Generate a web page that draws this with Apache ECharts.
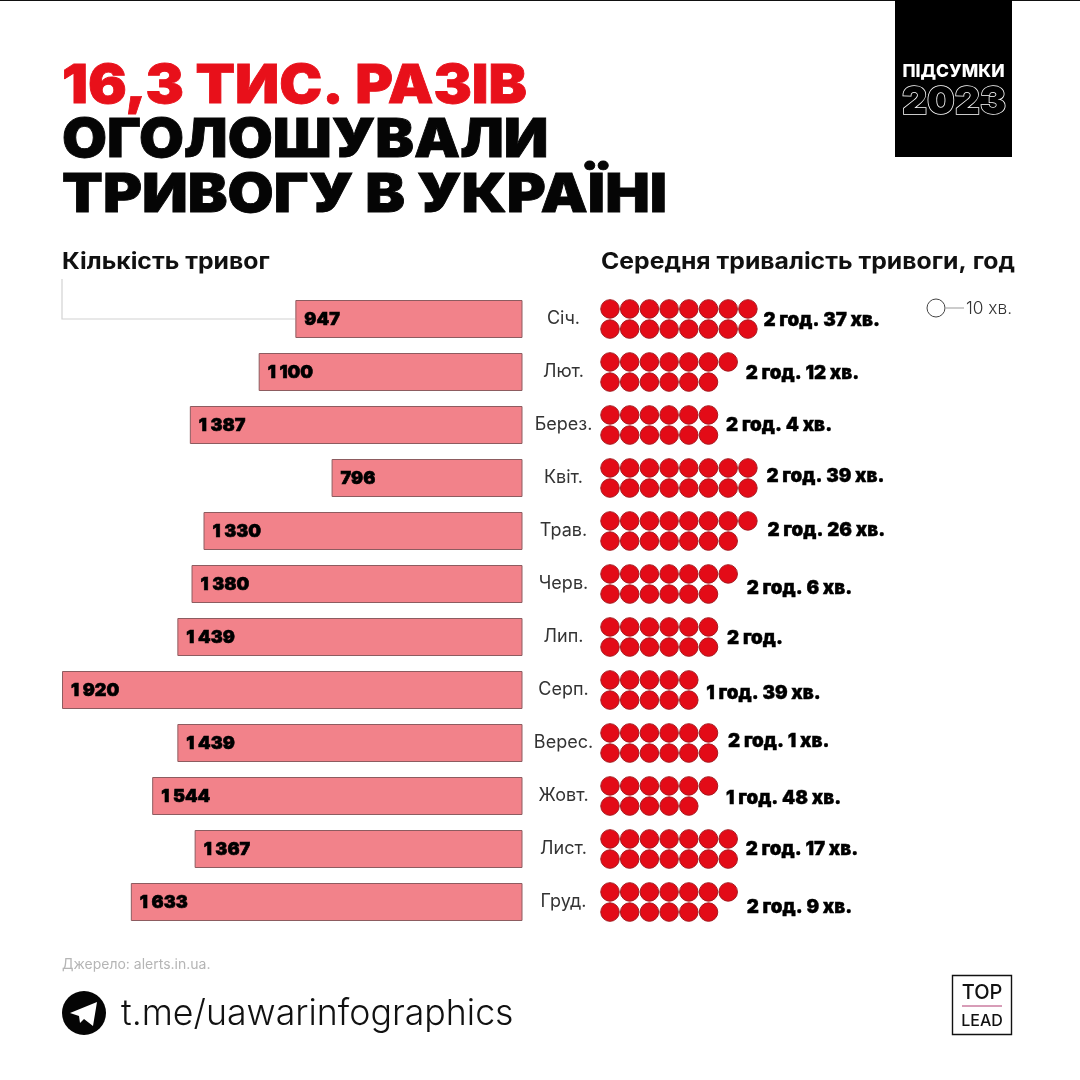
<!DOCTYPE html>
<html><head><meta charset="utf-8">
<style>html,body{margin:0;padding:0;background:#fff}#c{width:1080px;height:1080px}</style>
<script src="https://cdn.jsdelivr.net/npm/echarts@6/dist/echarts.min.js"></script>
</head><body><div id="c"></div>
<script>
const months = ['Січ.','Лют.','Берез.','Квіт.','Трав.','Черв.','Лип.','Серп.','Верес.','Жовт.','Лист.','Груд.'];
const alertCounts = [947,1100,1387,796,1330,1380,1439,1920,1439,1544,1367,1633];
const durationMinutes = [157,132,124,159,146,126,120,99,121,108,137,129];
const durationLabels = ['2 год. 37 хв.','2 год. 12 хв.','2 год. 4 хв.','2 год. 39 хв.','2 год. 26 хв.','2 год. 6 хв.','2 год.','1 год. 39 хв.','2 год. 1 хв.','1 год. 48 хв.','2 год. 17 хв.','2 год. 9 хв.'];
const labelGap = [6,8,8,9,10,9,9,8,10,8,8,9];
const labelDy = [1,1,0,-2,-1,4,1,3,-2,2,0,5];

const F = 'Inter, "Noto Sans", sans-serif';
const dots = [], ends = [];
durationMinutes.forEach((m, i) => {
  const n = Math.round(m / 10), top = Math.ceil(n / 2);
  for (let k = 0; k < n; k++) {
    const onTop = k < top;
    dots.push([onTop ? k : k - top, i + (onTop ? -0.19 : 0.19)]);
  }
  ends.push({
    value: [top - 1, i],
    label: { show: true, position: 'right', distance: 9.5 + labelGap[i], offset: [0, labelDy[i]],
      formatter: durationLabels[i], color: '#000', fontFamily: F, fontSize: 18.8, fontWeight: 900,
      textBorderColor: '#000', textBorderWidth: 0.4 }
  });
});
const txt = (text, x, y, size, weight, fill, extra, sx) => ({
  type: 'text', x, y, scaleX: sx || 1, silent: true,
  style: Object.assign({ text, fontFamily: F, fontSize: size, fontWeight: weight, fill, textVerticalAlign: 'middle', verticalAlign: 'middle' }, extra || {})
});
const chart = echarts.init(document.getElementById('c'), null, { renderer: 'canvas' });
chart.setOption({
  animation: false,
  backgroundColor: '#fff',
  grid: [
    { left: 62, top: 292.5, width: 460.5, height: 636 },
    { left: 610, top: 292.5, width: 394, height: 636 }
  ],
  xAxis: [
    { gridIndex: 0, type: 'value', inverse: true, min: 0, max: 1920, show: false },
    { gridIndex: 1, type: 'value', min: 0, max: 20, show: false }
  ],
  yAxis: [
    { gridIndex: 0, type: 'category', inverse: true, data: months, position: 'right',
      axisLine: { show: false }, axisTick: { show: false },
      axisLabel: { margin: 41, align: 'center', color: '#333', fontFamily: F, fontSize: 18, fontWeight: 400, padding: [1, 0, 0, 0] } },
    { gridIndex: 1, type: 'value', inverse: true, min: -0.5, max: 11.5, show: false }
  ],
  series: [
    { type: 'bar', xAxisIndex: 0, yAxisIndex: 0, data: alertCounts, barWidth: 38,
      itemStyle: { color: '#f2828a', borderColor: '#8d5c60', borderWidth: 1 },
      label: { show: true, position: 'insideLeft', distance: 9, offset: [0, 1], color: '#000', fontFamily: F, fontSize: 18, fontWeight: 900,
        textBorderColor: '#000', textBorderWidth: 0.6,
        formatter: p => String(p.value).replace(/\B(?=(\d{3})+$)/g, ' ') } },
    { type: 'scatter', xAxisIndex: 1, yAxisIndex: 1, data: dots, symbolSize: 18.5, clip: false,
      itemStyle: { color: '#e30b17', borderColor: '#a51a20', borderWidth: 1, opacity: 1 } },
    { type: 'scatter', xAxisIndex: 1, yAxisIndex: 1, data: ends, symbolSize: 0, clip: false, itemStyle: { opacity: 1 } }
  ],
  graphic: [
    { type: 'rect', silent: true, shape: { x: 0, y: 0, width: 1080, height: 1 }, style: { fill: '#111' } },
    { type: 'rect', silent: true, shape: { x: 895, y: 0, width: 117, height: 157 }, style: { fill: '#000' } },
    txt('ПІДСУМКИ', 953.5, 72, 17.5, 800, '#fff', { textAlign: 'center', align: 'center' }),
    txt('2023', 954, 102.5, 39, 900, '#000', { textAlign: 'center', align: 'center', stroke: '#fff', lineWidth: 1.5 }),
    txt('16,3 ТИС. РАЗІВ', 62, 86.5, 54, 900, '#e8101a', { stroke: '#e8101a', lineWidth: 0.8 }, 1.065),
    txt('ОГОЛОШУВАЛИ', 62, 140.5, 54, 900, '#050505', { stroke: '#050505', lineWidth: 0.8 }, 1.075),
    txt('ТРИВОГУ В УКРАЇНІ', 62, 195.5, 54, 900, '#050505', { stroke: '#050505', lineWidth: 0.8 }, 1.103),
    txt('Кількість тривог', 62, 262, 22.5, 700, '#111', null, 1.1),
    txt('Середня тривалість тривоги, год', 601, 262, 22.5, 700, '#111', null, 1.1),
    { type: 'polyline', silent: true, shape: { points: [[62, 279], [62, 319], [295, 319]] }, style: { stroke: '#d2d2d2', lineWidth: 1.2, fill: null } },
    { type: 'circle', silent: true, shape: { cx: 936, cy: 308, r: 9 }, style: { fill: '#fff', stroke: '#444', lineWidth: 1 } },
    { type: 'line', silent: true, shape: { x1: 946, y1: 308, x2: 964, y2: 308 }, style: { stroke: '#999', lineWidth: 1 } },
    txt('10 хв.', 966, 309, 17.3, 300, '#333'),
    txt('Джерело: alerts.in.ua.', 62, 965, 14, 400, '#b5b5b5'),
    { type: 'circle', silent: true, shape: { cx: 84, cy: 1013, r: 22 }, style: { fill: '#050505' } },
    { type: 'polygon', silent: true, shape: { points: [[70, 1013], [97, 1002], [93, 1026], [84, 1019], [80, 1023], [79, 1016]] }, style: { fill: '#fff' } },
    txt('t.me/uawarinfographics', 121, 1014, 35.7, 300, '#111'),
    { type: 'rect', silent: true, shape: { x: 952.5, y: 975.5, width: 59, height: 59 }, style: { fill: '#fff', stroke: '#111', lineWidth: 1.4 } },
    txt('TOP', 982, 993, 20, 500, '#111', { textAlign: 'center', align: 'center' }),
    { type: 'line', silent: true, shape: { x1: 962, y1: 1006, x2: 1002, y2: 1006 }, style: { stroke: '#b03a70', lineWidth: 1 } },
    txt('LEAD', 982, 1021, 16, 500, '#111', { textAlign: 'center', align: 'center' })
  ]
});
</script></body></html>
